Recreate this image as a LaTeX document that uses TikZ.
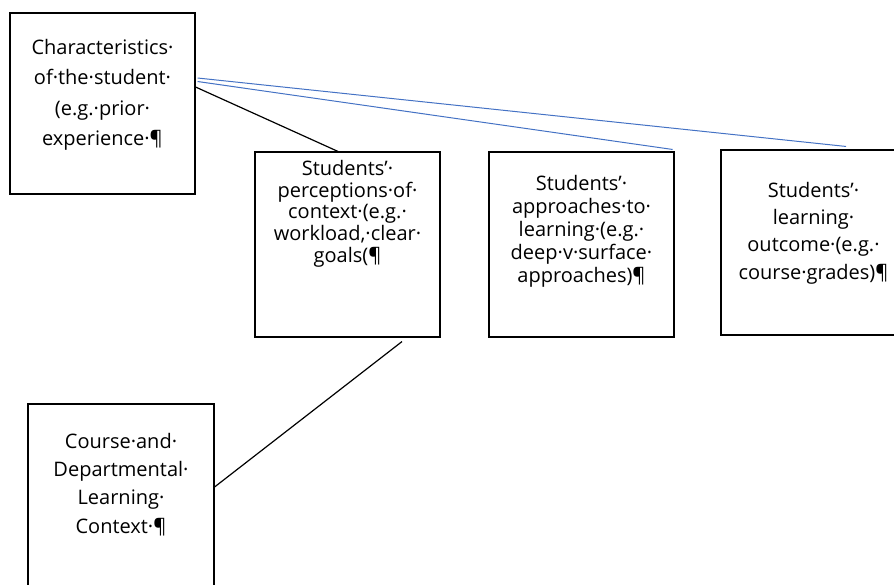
\documentclass[tikz,border=0pt]{standalone}
\usepackage{fontspec}
\setmainfont{Open Sans}
\usetikzlibrary{calc,positioning}
\definecolor{wordblue}{RGB}{68,114,196}
\tikzset{
  boxnode/.style={draw,line width=1.1pt,minimum width=185pt,minimum height=185pt,inner sep=0pt},
  boxtext/.style={align=center,inner sep=0pt},
  link/.style={line width=1.2pt},
  bluelink/.style={wordblue,line width=1pt},
}
\begin{document}
\begin{tikzpicture}[x=1pt,y=-1pt]
\useasboundingbox (0,0) rectangle (894,584);
% boxes
\node[boxnode,minimum height=181pt] (chars) at (102.5,103.5) {};
\node[boxnode] (percept) at (347.5,244.5) {};
\node[boxnode] (approach) at (581.5,244.5) {};
\node[boxnode] (outcome) at (813.5,242.5) {};
\node[boxnode,minimum width=186pt] (course) at (121,496.5) {};
% texts
\node[boxtext,below=26.5pt of chars.north,font=\fontsize{20}{30.5}\selectfont] (charstxt)
  {Characteristics·\\of·the·student·\\(e.g.·prior·\\experience·¶};
\node[boxtext,below=8.5pt of percept.north,font=\fontsize{20}{21.7}\selectfont] (percepttxt)
  {Students’·\\perceptions·of·\\context·(e.g.·\\workload,·clear·\\goals(¶};
\node[boxtext,below=23.5pt of approach.north,font=\fontsize{20}{23}\selectfont] (approachtxt)
  {Students’·\\approaches·to·\\learning·(e.g.·\\deep·v·surface·\\approaches)¶};
\node[boxtext,below=32.5pt of outcome.north,font=\fontsize{20}{27.3}\selectfont] (outcometxt)
  {Students’·\\learning·\\outcome·(e.g.·\\course·grades)¶};
\node[boxtext,below=29.5pt of course.north,font=\fontsize{20}{28.3}\selectfont] (coursetxt)
  {Course·and·\\Departmental·\\Learning·\\Context·¶};
% links
\draw[link] ($(chars.east)+(0,-16.5)$) -- ($(percept.north)+(-9.5,0)$);
\draw[bluelink] ($(chars.east)+(2,-22)$) -- ($(approach.north east)+(-2,-2)$);
\draw[bluelink] ($(chars.east)+(2,-25.5)$) -- ($(outcome.north)+(32.5,-3)$);
\draw[link] ($(percept.south)+(54.5,4)$) -- ($(course.east)+(0,-9.5)$);
\end{tikzpicture}
\end{document}
